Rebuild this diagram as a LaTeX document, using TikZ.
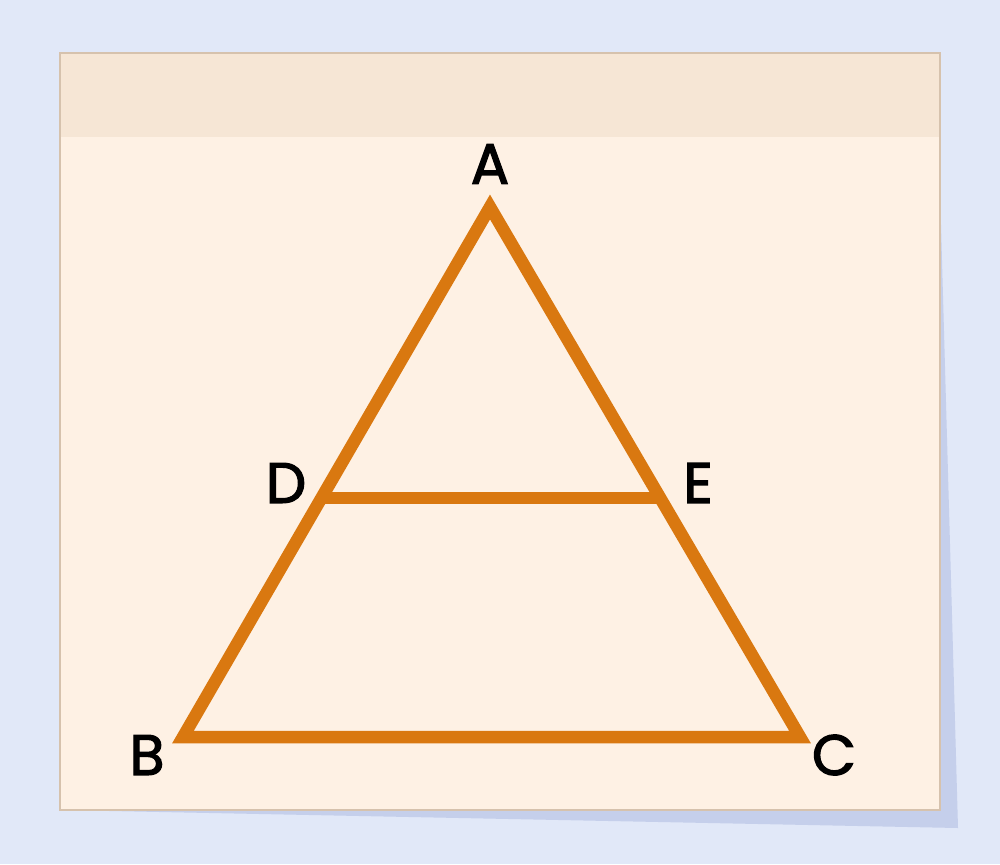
\documentclass[tikz,border=0pt]{standalone}
\usepackage{fontspec}
\setmainfont{Poppins}
\newfontfamily\labfont{Poppins}[FakeBold=2.2]
\definecolor{bgblue}{HTML}{E1E8F8}
\definecolor{shadowblue}{HTML}{C5CFEB}
\definecolor{cardbody}{HTML}{FEF1E4}
\definecolor{cardhead}{HTML}{F6E6D5}
\definecolor{cardedge}{HTML}{D6C2AD}
\definecolor{triorange}{HTML}{D97810}
\tikzset{
  edge/.style={draw=triorange, line width=12.5pt, line join=miter},
  lab/.style={font=\labfont\fontsize{57}{57}\selectfont, text=black, inner sep=0pt}
}
\begin{document}
\begin{tikzpicture}[x=1pt,y=-1pt]
\fill[bgblue] (0,0) rectangle (1000,864);
\useasboundingbox (0,0) rectangle (1000,864);
% shadow
\fill[shadowblue] (60,810) -- (958,828) -- (940,190) -- cycle;
% card
\fill[cardbody] (60,53) rectangle (940,810);
\fill[cardhead] (60,53) rectangle (940,137);
\draw[cardedge, line width=2pt] (60,53) rectangle (940,810);
% triangle
\coordinate (A) at (490,207);
\coordinate (B) at (183,737);
\coordinate (C) at (800,737);
\coordinate (D) at (320,498);
\coordinate (E) at (660,498);
\draw[edge] (A) -- (B) -- (C) -- cycle;
\draw[edge, line cap=butt] (D) -- (E);
% labels
\node[lab] (lA) at (490,164) {A};
\node[lab] (lD) at (286,483) {D};
\node[lab] (lE) at (698,483) {E};
\node[lab] (lB) at (147,755) {B};
\node[lab] (lC) at (834,755) {C};
\end{tikzpicture}
\end{document}
